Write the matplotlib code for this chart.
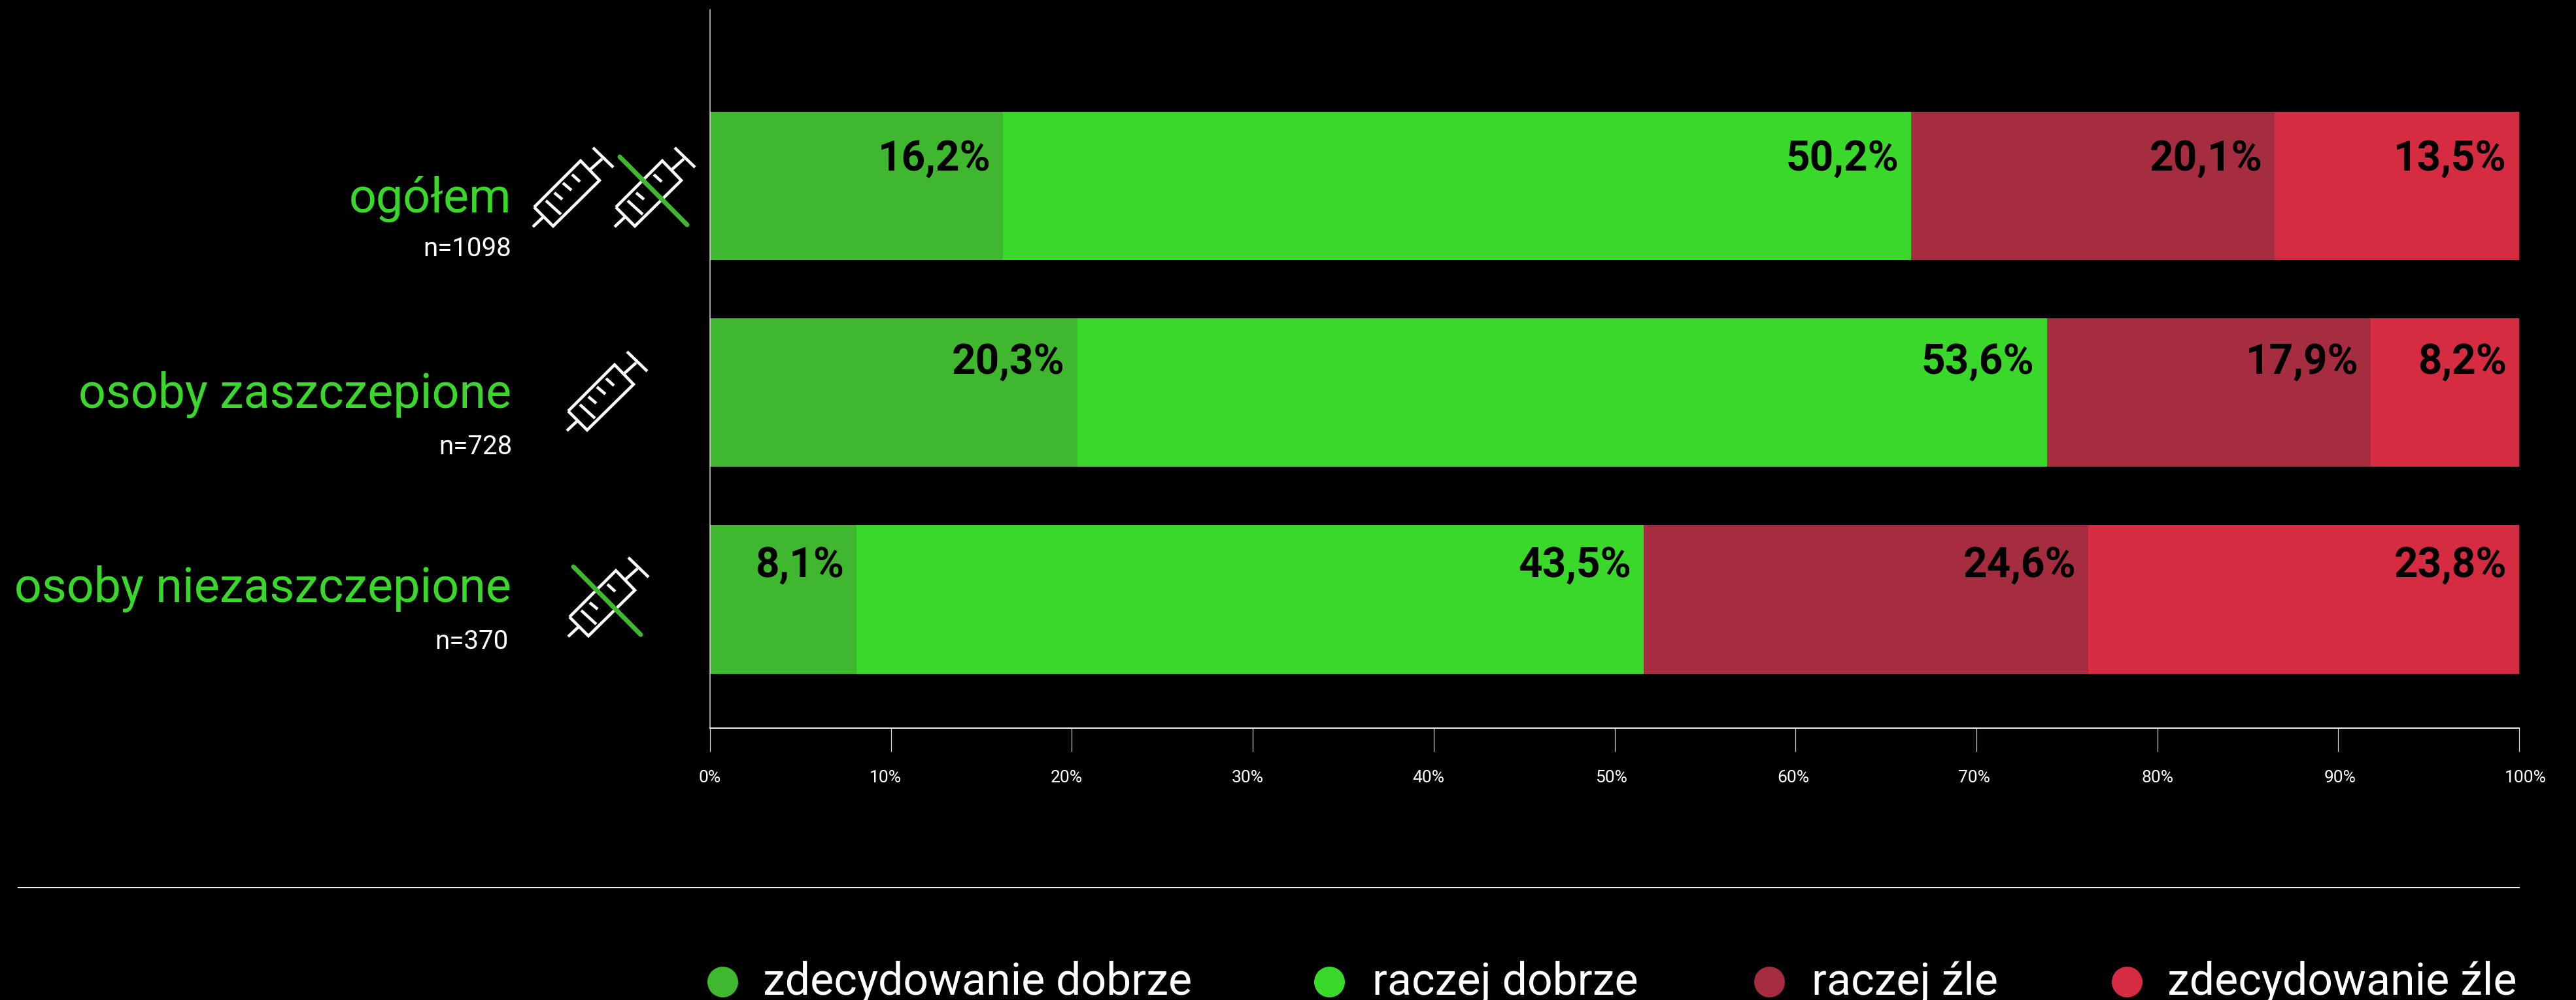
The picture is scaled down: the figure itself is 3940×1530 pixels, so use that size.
import matplotlib
matplotlib.use('Agg')
import matplotlib.pyplot as plt
from matplotlib.transforms import ScaledTranslation
import numpy as np

# Data
categories = ['ogółem', 'osoby zaszczepione', 'osoby niezaszczepione']
sample_sizes = ['n=1098', 'n=728', 'n=370']
series_names = ['zdecydowanie dobrze', 'raczej dobrze', 'raczej źle', 'zdecydowanie źle']
very_good = [16.2, 20.3, 8.1]
rather_good = [50.2, 53.6, 43.5]
rather_bad = [20.1, 17.9, 24.6]
very_bad = [13.5, 8.2, 23.8]
x_ticks = [0, 10, 20, 30, 40, 50, 60, 70, 80, 90, 100]

colors = ['#3fb82f', '#3bd82c', '#a62c40', '#d52c42']
FONT = 'Roboto'
W, H = 3941, 1530
DPI = 100
PX = 72 / DPI  # one pixel in points

plt.rcParams['font.family'] = [FONT, 'DejaVu Sans']

fig = plt.figure(figsize=(W / DPI, H / DPI), dpi=DPI, facecolor='black')

# Main axes, placed by pixel edges of the reference
left, right, top, bottom = 1086, 3853, 15, 1114
ax = fig.add_axes([left / W, 1 - bottom / H, (right - left) / W, (bottom - top) / H],
                  facecolor='black')
ax.set_xlim(0, 100)
ax.set_ylim(2.624, -0.853)

y_pos = np.arange(len(categories))
label_lift = [24.5, 29, 34]  # baseline above bar centre, px
starts = np.zeros(len(categories))
for values, color in zip([very_good, rather_good, rather_bad, very_bad], colors):
    values = np.array(values)
    ax.barh(y_pos, values, left=starts, height=0.72, color=color, linewidth=0)
    starts = starts + values
    for i, end in enumerate(starts):
        ax.annotate(f'{values[i]:.1f}%'.replace('.', ','), (end, y_pos[i]),
                    xytext=(-19 * PX, label_lift[i] * PX), textcoords='offset points',
                    ha='right', va='baseline', fontsize=46, fontweight='bold', color='black')

for name in ['top', 'right']:
    ax.spines[name].set_visible(False)
ax.spines['left'].set_color('#d8d8d8')
ax.spines['left'].set_linewidth(1.5 * PX)
ax.spines['bottom'].set_color('#ececec')
ax.spines['bottom'].set_linewidth(2 * PX)
ax.set_yticks([])
ax.set_xticks(x_ticks)
ax.set_xticklabels([f'{t}%' for t in x_ticks], fontsize=19, color='white')
ax.tick_params(axis='x', length=36 * PX, width=1.2 * PX, color='#d8d8d8', pad=28 * PX)

# Tick labels sit slightly off their ticks in the reference
tick_label_shift = [0, -8, -8, -8, -8, -5, -3, -3, 0, 3, 10]
for label, shift in zip(ax.get_xticklabels(), tick_label_shift):
    label.set_transform(label.get_transform() + ScaledTranslation(shift / DPI, 0, fig.dpi_scale_trans))

# Overlay in pixel coordinates for the labels, icons, rule and legend
over = fig.add_axes([0, 0, 1, 1], facecolor='none')
over.set_xlim(0, W)
over.set_ylim(H, 0)
over.axis('off')

cat_baselines = [324, 624, 921]
n_baselines = [392, 695, 993]
n_right = [782, 783, 778]
for i, name in enumerate(categories):
    over.text(782, cat_baselines[i], name, ha='right', va='baseline', fontsize=53,
              color=colors[1])
    over.text(n_right[i], n_baselines[i], sample_sizes[i], ha='right', va='baseline',
              fontsize=29, color='white')

# Syringe outline relative to its left barrel corner
syringe_parts = [
    [(0, 0), (71, -71), (100, -41), (29, 29), (0, 0)],
    [(84, -56), (104, -74)],
    [(90, -91), (121, -61)],
    [(-2, 30), (14, 15)],
    [(18, -10), (41, 11)],
    [(31, -22), (43, -12)],
    [(44, -37), (57, -26)],
    [(58, -50), (70, -39)],
]


def draw_syringe(x0, y0, crossed=False):
    for part in syringe_parts:
        xs = [x0 + p[0] for p in part]
        ys = [y0 + p[1] for p in part]
        over.plot(xs, ys, color='white', linewidth=4.5 * PX, solid_capstyle='butt',
                  solid_joinstyle='miter')
    if crossed:
        over.plot([x0 + 6, x0 + 109], [y0 - 77, y0 + 27], color=colors[0],
                  linewidth=7 * PX, solid_capstyle='round')


draw_syringe(817, 317)
draw_syringe(942, 317, crossed=True)
draw_syringe(869, 629)
draw_syringe(871, 944, crossed=True)

# Separator
over.plot([28, 3853], [1358, 1358], color='#f0f0f0', linewidth=2 * PX)

# Legend
marker_x = [1105, 2033, 2706, 3253]
text_x = [1167, 2099, 2771, 3315]
for name, mx, tx, color in zip(series_names, marker_x, text_x, colors):
    over.scatter([mx], [1502], s=(47 * PX) ** 2, color=color, linewidths=0)
    over.text(tx, 1521, name, ha='left', va='baseline', fontsize=49, color='white')

fig.savefig('out.png', dpi=DPI, facecolor='black')
